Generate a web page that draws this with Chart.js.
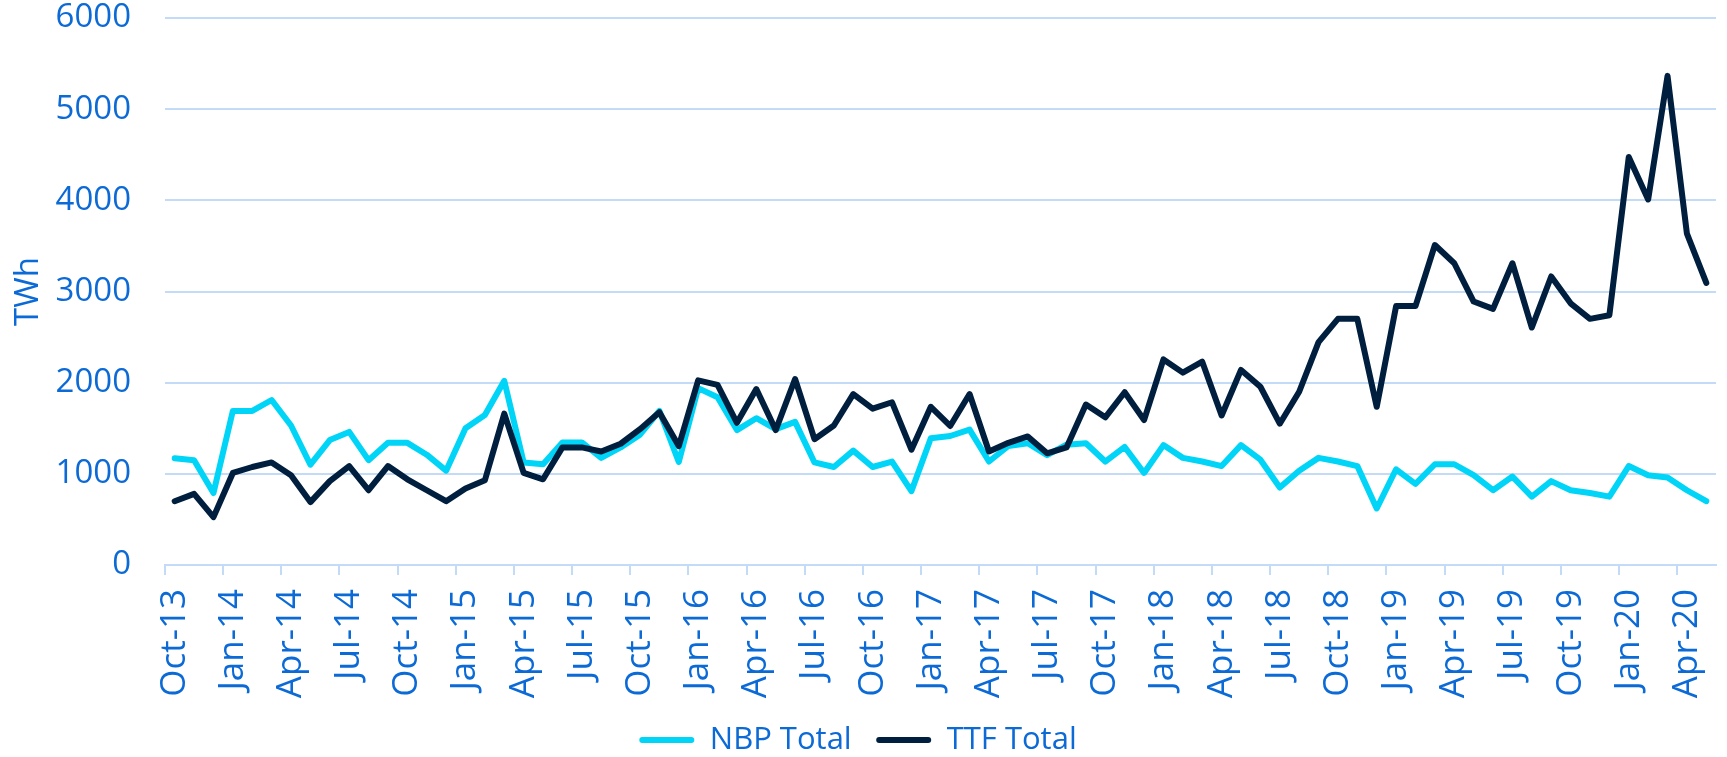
<!DOCTYPE html>
<html>
<head>
<meta charset="utf-8">
<script src="https://cdn.jsdelivr.net/npm/chart.js@4"></script>
<style>
  html, body { margin: 0; padding: 0; background: #ffffff; }
  #wrap { width: 1727px; height: 757px; }
</style>
</head>
<body>
<div id="wrap"><canvas id="gasChart" width="1727" height="757"></canvas></div>
<script>
"use strict";

// monthly categories, Oct-13 .. May-20
var MONTHS = ['Jan', 'Feb', 'Mar', 'Apr', 'May', 'Jun', 'Jul', 'Aug', 'Sep', 'Oct', 'Nov', 'Dec'];
var labels = [];
for (var y = 2013; y <= 2020; y++) {
    for (var m = 0; m < 12; m++) {
        if (y === 2013 && m < 9) continue;
        if (y === 2020 && m > 4) continue;
        labels.push(MONTHS[m] + '-' + String(y).slice(2));
    }
}

var nbpTotal = [
    1170, 1150, 790, 1690, 1690, 1810, 1530, 1100, 1370, 1460,
    1150, 1340, 1340, 1210, 1035, 1500, 1645, 2020, 1125, 1105,
    1345, 1345, 1175, 1290, 1430, 1690, 1130, 1940, 1840, 1480,
    1610, 1490, 1570, 1125, 1075, 1255, 1075, 1135, 810, 1390,
    1415, 1485, 1135, 1305, 1335, 1205, 1320, 1335, 1135, 1295,
    1010, 1315, 1175, 1135, 1085, 1315, 1155, 850, 1035, 1175,
    1135, 1085, 620, 1050, 890, 1105, 1105, 985, 820, 970,
    750, 920, 820, 790, 750, 1085, 985, 960, 820, 700
];

var ttfTotal = [
    700, 780, 525, 1010, 1075, 1125, 985, 690, 920, 1085,
    820, 1085, 940, 820, 700, 840, 930, 1660, 1010, 940,
    1290, 1290, 1245, 1330, 1490, 1675, 1305, 2025, 1975, 1560,
    1930, 1480, 2040, 1380, 1530, 1875, 1715, 1785, 1265, 1735,
    1525, 1875, 1245, 1340, 1410, 1225, 1290, 1760, 1620, 1895,
    1590, 2255, 2110, 2230, 1640, 2140, 1955, 1550, 1900, 2445,
    2700, 2700, 1735, 2840, 2840, 3510, 3310, 2890, 2810, 3310,
    2605, 3165, 2870, 2700, 2740, 4475, 4010, 5365, 3635, 3095
];

var TEXT_BLUE = '#0B6AD6';
var GRID_BLUE = '#C4DBF7';

Chart.defaults.font.family = "'Open Sans', sans-serif";
Chart.defaults.color = TEXT_BLUE;

var ctx = document.getElementById('gasChart');
var chart = new Chart(ctx, {
    type: 'line',
    data: {
        labels: labels,
        datasets: [
            {
                label: 'NBP Total',
                data: nbpTotal,
                borderColor: '#00D4F7',
                backgroundColor: '#00D4F7',
                borderWidth: 6,
                pointRadius: 0,
                tension: 0,
                borderJoinStyle: 'round',
                borderCapStyle: 'round',
                order: 2
            },
            {
                label: 'TTF Total',
                data: ttfTotal,
                borderColor: '#001F3F',
                backgroundColor: '#001F3F',
                borderWidth: 6,
                pointRadius: 0,
                tension: 0,
                borderJoinStyle: 'round',
                borderCapStyle: 'round',
                order: 1
            }
        ]
    },
    options: {
        responsive: false,
        animation: false,
        devicePixelRatio: 1,
        layout: {
            padding: { top: 18, right: 11, bottom: -8.5, left: 0 }
        },
        plugins: {
            tooltip: { enabled: false },
            legend: {
                position: 'bottom',
                labels: {
                    color: TEXT_BLUE,
                    font: { size: 31 },
                    boxWidth: 55,
                    boxHeight: 6,
                    padding: 24.5,
                    useBorderRadius: true,
                    borderRadius: 3,
                    sort: function (a, b) { return a.datasetIndex - b.datasetIndex; },
                    generateLabels: function (chart) {
                        var items = Chart.defaults.plugins.legend.labels.generateLabels(chart);
                        items.forEach(function (it) { it.lineWidth = 0; });
                        return items;
                    }
                }
            }
        },
        scales: {
            x: {
                offset: true,
                grid: {
                    offset: true,
                    drawOnChartArea: false,
                    drawTicks: true,
                    tickLength: 10,
                    lineWidth: 2,
                    color: function (c) { return c.index % 3 === 0 ? GRID_BLUE : 'rgba(0,0,0,0)'; }
                },
                border: { display: true, color: GRID_BLUE, width: 2 },
                ticks: {
                    autoSkip: false,
                    maxRotation: 90,
                    minRotation: 90,
                    padding: 14,
                    color: TEXT_BLUE,
                    font: { size: 35 },
                    callback: function (val, index) {
                        return index % 3 === 0 ? this.getLabelForValue(val) : '';
                    }
                },
                afterFit: function (scale) {
                    scale.height = 135;
                    scale.paddingLeft = 0;
                    scale.paddingRight = 0;
                }
            },
            y: {
                min: 0,
                max: 6000,
                grid: {
                    color: GRID_BLUE,
                    lineWidth: 2,
                    drawTicks: true,
                    tickLength: 34,
                    tickColor: 'rgba(0,0,0,0)'
                },
                border: { display: false },
                ticks: {
                    stepSize: 1000,
                    padding: 0,
                    color: TEXT_BLUE,
                    font: { size: 33, lineHeight: 1 },
                    callback: function (v) { return String(v); }
                },
                title: {
                    display: true,
                    text: 'TWh',
                    color: TEXT_BLUE,
                    font: { size: 33 },
                    padding: { top: 9, bottom: 0 }
                },
                afterFit: function (scale) { scale.width = 165; }
            }
        }
    }
});
</script>
</body>
</html>
